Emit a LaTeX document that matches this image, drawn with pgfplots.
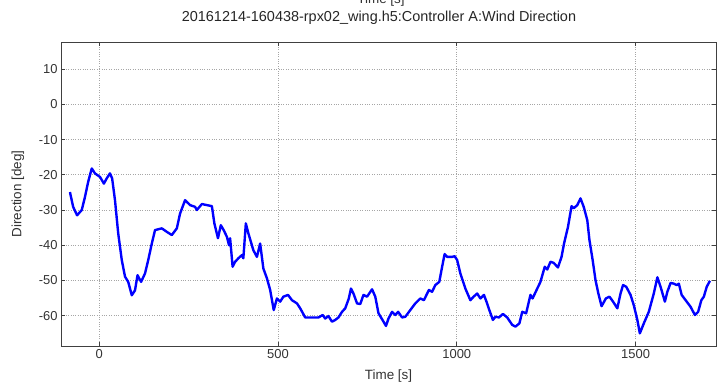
\documentclass[border=0pt]{standalone}
\usepackage{pgfplots}
\pgfplotsset{compat=1.18}
\usepackage{fontspec}
\setmainfont{Liberation Sans}
\begin{document}
\begin{tikzpicture}
\begin{axis}[
  at={(61bp,37bp)}, anchor=south west,
  width=655bp, height=304bp, scale only axis,
  xmin=-107, xmax=1725, ymin=-68.6, ymax=17.7,
  xtick={0,500,1000,1500}, ytick={-60,-50,...,10},
  grid=major,
  grid style={dotted, gray!70, line width=0.8pt},
  axis line style={black!75, line width=1pt},
  tick style={black!75, line width=0.7pt},
  tick align=inside, major tick length=4bp,
  xtick pos=both, ytick pos=both,
  ticklabel style={font=\fontsize{13}{15}\selectfont, text=black!80},
  /pgf/number format/assume math mode=true,
  /pgf/number format/1000 sep={},
  xlabel={Time [s]}, ylabel={Direction [deg]},
  label style={font=\fontsize{13.5}{15}\selectfont, text=black!80},
  x label style={at={(axis description cs:0.5,-0.098)}, anchor=center},
  y label style={at={(axis description cs:-0.066,0.5)}, anchor=center},
]
\addplot[color={rgb,255:red,0;green,0;blue,255}, line width=2.4pt, line join=round] coordinates {
(-82,-24.9)(-73,-29.1)(-62,-31.5)(-49,-30)(-40,-26.3)(-31,-22)(-21,-18.2)(-12,-19.6)
(2,-20.6)(13,-22.5)(21,-21)(30,-19.6)(36,-21)(44,-27.2)(53,-36.6)(63,-44.2)(72,-48.9)
(81,-50.4)(91,-54.2)(100,-52.8)(107,-48.5)(117,-50.4)(128,-48)(137,-44.2)(147,-39.5)
(156,-35.7)(175,-35.2)(189,-36.2)(203,-37.1)(217,-35.2)(226,-31)(240,-27.2)(254,-28.6)
(268,-29.1)(273,-30)(287,-28.3)(301,-28.6)(315,-28.9)(322,-33.8)(332,-38)(340,-34.3)
(348,-35.7)(357,-37.6)(363,-40)(366,-38)(373,-46.1)(380,-44.7)(389,-43.7)(399,-42.8)
(403,-43.7)(410,-33.8)(417,-36.6)(431,-41.4)(441,-43.3)(450,-39.5)(459,-46.6)(469,-49.4)
(478,-52.7)(488,-58.4)(497,-55.1)(506,-56)(515,-54.6)(528,-54.1)(539,-55.6)(553,-56.5)
(562,-57.9)(576,-60.5)(595,-60.5)(613,-60.5)(625,-59.8)(632,-60.8)(641,-60.1)(651,-61.7)
(660,-61.2)(669,-60.5)(679,-58.9)(688,-57.9)(698,-55.1)(704,-52.3)(711,-53.7)(721,-56.5)
(730,-56.7)(739,-54.1)(749,-54.6)(763,-52.5)(772,-54.6)(781,-59.3)(791,-61)(802,-62.9)
(809,-60.8)(819,-58.9)(828,-59.8)(836,-58.9)(847,-60.5)(856,-60.3)(870,-58.4)(884,-56.5)
(898,-55.1)(908,-55.6)(922,-52.7)(931,-53.2)(940,-51.3)(951,-50.4)(959,-46.1)(966,-42.5)
(973,-43.3)(987,-43.3)(994,-43.1)(1001,-44.2)(1010,-48)(1024,-52.3)(1038,-55.6)(1047,-54.6)
(1057,-53.7)(1066,-55.1)(1076,-54.1)(1083,-56)(1091,-58.4)(1101,-61.2)(1108,-60.3)
(1118,-60.5)(1129,-59.5)(1141,-60.5)(1155,-62.6)(1164,-63.1)(1175,-62.2)(1183,-58.9)
(1194,-59.3)(1206,-54.1)(1212,-55.1)(1225,-52.3)(1234,-50.4)(1246,-46.1)(1253,-46.9)
(1262,-44.7)(1271,-45)(1283,-46.3)(1293,-43.3)(1300,-39.5)(1311,-34.8)(1321,-28.9)
(1327,-29.5)(1337,-28.6)(1346,-26.7)(1355,-29.1)(1365,-32.9)(1371,-38.5)(1380,-44.2)
(1388,-49.9)(1396,-53.7)(1405,-57.3)(1417,-55.1)(1427,-54.6)(1437,-56)(1449,-57.9)
(1458,-53.7)(1465,-51.3)(1474,-51.8)(1486,-54.1)(1495,-57)(1505,-61.2)(1512,-65)
(1523,-62.2)(1537,-58.9)(1551,-53.7)(1561,-49.1)(1570,-51.8)(1582,-56)(1589,-53.2)
(1598,-50.7)(1607,-50.9)(1615,-51.3)(1621,-50.9)(1629,-54.1)(1640,-55.6)(1654,-57.5)
(1666,-59.8)(1675,-58.9)(1684,-55.6)(1691,-54.6)(1699,-51.8)(1708,-50.1)
};
\end{axis}
\node[font=\fontsize{14.5}{16}\selectfont, text=black!85] at (379bp,365bp) {20161214-160438-rpx02\_wing.h5:Controller A:Wind Direction};
\node[font=\fontsize{13.5}{15}\selectfont, text=black!80, anchor=base] at (381bp,379bp) {Time [s]};
\pgfresetboundingbox
\useasboundingbox (0,0) rectangle (723bp,383bp);
\end{tikzpicture}
\end{document}
